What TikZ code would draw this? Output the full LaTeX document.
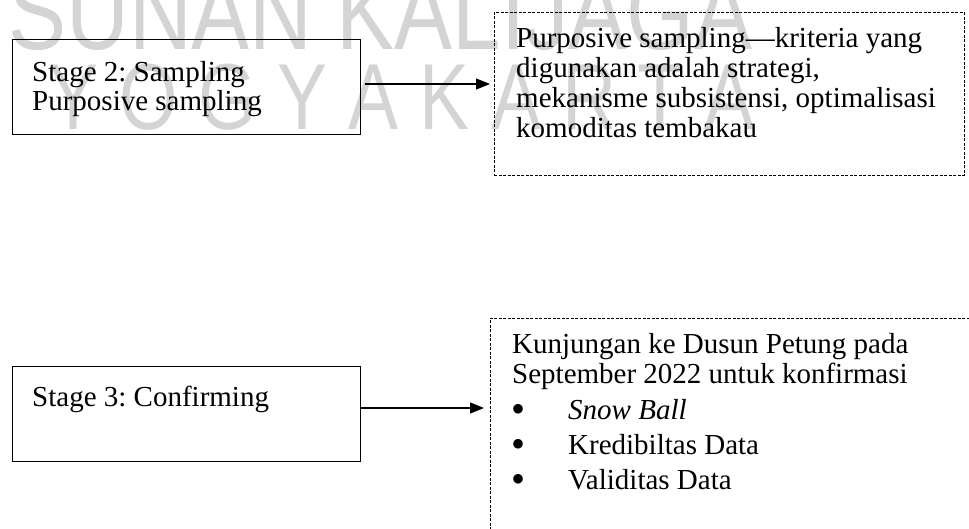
\documentclass[tikz,border=0pt]{standalone}
\usepackage{fontspec}
\setmainfont{Liberation Serif}
\newfontfamily\wmfont{Liberation Sans}
\usetikzlibrary{arrows.meta}
\begin{document}
\frenchspacing
\begin{tikzpicture}[x=1pt,y=-1pt,
  solidbox/.style={draw=black, line width=0.9pt, inner sep=0pt, anchor=north west},
  dashbox/.style={draw=black, line width=0.9pt, dash pattern=on 3pt off 1.5pt, inner sep=0pt, anchor=north west},
  txt/.style={anchor=base west, inner sep=0pt, font=\fontsize{29}{30}\selectfont},
  bul/.style={anchor=base west, inner sep=0pt, font=\fontsize{40}{40}\selectfont},
  arr/.style={line width=1.1pt, -{Triangle[length=14pt,width=11pt]}},
  wm/.style={text=black!17, inner sep=0pt, anchor=base west}]
\useasboundingbox (0,0) rectangle (969,529);
% watermark
\node[wm, font=\wmfont\fontsize{87}{87}\selectfont] (wm1) at (8,50) {\scalebox{1}[1.25]{SUNAN KALIJAGA}};
\node[wm, font=\wmfont\fontsize{75}{75}\selectfont] (wm2) at (48,130) {\scalebox{1}[1.25]{Y\hspace{21pt}O\hspace{21pt}G\hspace{21pt}Y\hspace{21pt}A\hspace{21pt}K\hspace{21pt}A\hspace{21pt}R\hspace{21pt}T\hspace{21pt}A}};
% boxes
\node[solidbox, minimum width=348pt, minimum height=95pt] (s2) at (12,39) {};
\node[dashbox, minimum width=470pt, minimum height=163pt] (p2) at (494,12) {};
\node[solidbox, minimum width=348pt, minimum height=95pt] (s3) at (12,366) {};
\node[dashbox, minimum width=500pt, minimum height=240pt] (k3) at (490,318) {};
% texts
\node[txt] (t1) at (32,82) {Stage 2: Sampling};
\node[txt] (t2) at (32,111) {Purposive sampling};
\node[txt] (t3) at (516,48) {Purposive sampling---kriteria yang};
\node[txt] (t4) at (516,78) {digunakan adalah strategi,};
\node[txt] (t5) at (516,108) {mekanisme subsistensi, optimalisasi};
\node[txt] (t6) at (516,138) {komoditas tembakau};
\node[txt] (t7) at (32,406) {Stage 3: Confirming};
\node[txt] (t8) at (512,353) {Kunjungan ke Dusun Petung pada};
\node[txt] (t9) at (512,383) {September 2022 untuk konfirmasi};
\node[bul] (b1) at (511,422) {•};
\node[txt] (t10) at (568,419) {\itshape Snow Ball};
\node[bul] (b2) at (511,457) {•};
\node[txt] (t11) at (568,454) {Kredibiltas Data};
\node[bul] (b3) at (511,492) {•};
\node[txt] (t12) at (568,489) {Validitas Data};
% arrows
\draw[arr] ([xshift=4pt]s2.east |- 0,84) -- ([xshift=-4pt]p2.west |- 0,84);
\draw[arr] (s3.east |- 0,408) -- ([xshift=-6pt]k3.west |- 0,408);
\end{tikzpicture}
\end{document}
